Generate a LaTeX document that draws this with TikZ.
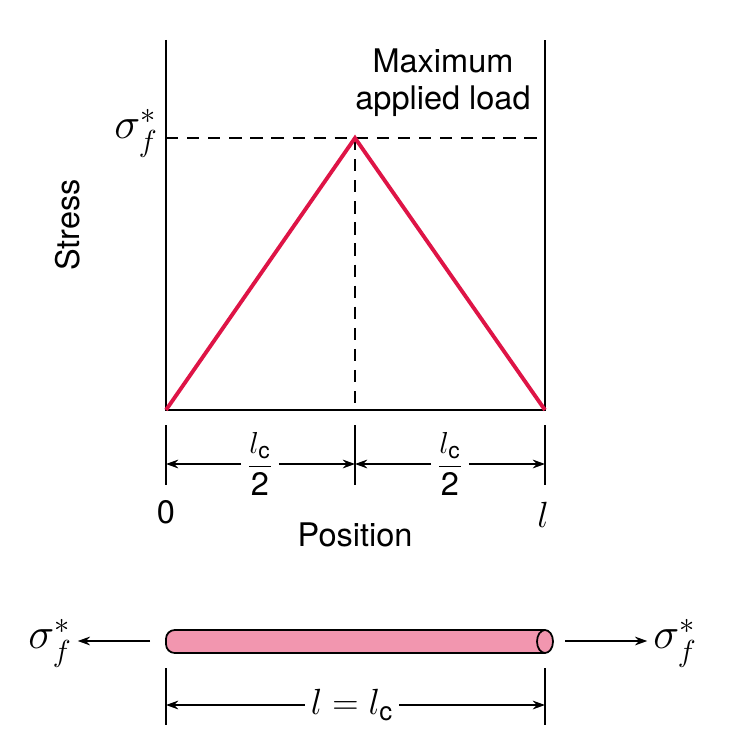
\documentclass[tikz,border=0pt]{standalone}
\usepackage{amsmath}
\usepackage{fontspec}
\setmainfont{TeX Gyre Heros}
\usetikzlibrary{arrows.meta}
\definecolor{loadred}{RGB}{222,20,70}
\definecolor{rodpink}{RGB}{242,150,175}
\tikzset{axis/.style={line width=1.2pt},
  guide/.style={line width=0.9pt,dash pattern=on 7pt off 5pt},
  load/.style={loadred,line width=2.2pt},
  dimtick/.style={line width=0.8pt},
  dimline/.style={line width=0.8pt,-{Stealth[length=7pt,width=5pt]}},
  rod/.style={fill=rodpink,draw=black,line width=1pt},
  lbl/.style={font=\fontsize{18.5}{21}\selectfont},
  siglbl/.style={font=\fontsize{25}{28}\selectfont}}

\begin{document}
\begin{tikzpicture}[x=0.02cm,y=-0.02cm]
\useasboundingbox (0,0) rectangle (731,750);
% stress plot
\coordinate (O) at (166,410); \coordinate (P) at (355,138); \coordinate (L) at (545,410);
\coordinate (OT) at (166,40); \coordinate (LT) at (545,40);
\draw[guide] (O|-P) -- (L|-P); \draw[guide] (P) -- (P|-O);
\draw[axis] (OT) -- (O) -- (L) -- (LT);
\draw[load] (O) -- (P) -- (L);
\node[siglbl] (sig) at (136,133) {$\sigma_f^*$};
\node[lbl,rotate=90] (stress) at (68,225) {Stress};
\node[lbl,align=center] (maxload) at (443,83) {Maximum\\applied load};
% position scale
\foreach \x/\n in {166/a,355/b,545/c}{\coordinate (\n1) at (\x,425); \coordinate (\n2) at (\x,485); \draw[dimtick] (\n1) -- (\n2);}
\node[lbl] (half1) at (260,464) {$\dfrac{l_{\text{c}}}{\text{2}}$};
\node[lbl] (half2) at (450,464) {$\dfrac{l_{\text{c}}}{\text{2}}$};
\draw[dimline] (half1.west) -- (half1-|a1); \draw[dimline] (half1.east) -- (half1-|b1);
\draw[dimline] (half2.west) -- (half2-|b1); \draw[dimline] (half2.east) -- (half2-|c1);
\node[lbl] (zero) at (166,512) {0}; \node[lbl,font=\fontsize{21}{24}\selectfont] (ell) at (543,515) {$l$};
\node[lbl] (pos) at (355,535) {Position};
% fiber
\filldraw[rod] (545,630) [rounded corners=5pt] -- (166,630) -- (166,653) [sharp corners] -- (545,653);
\filldraw[rod] (545,641.5) ellipse (8 and 11.5);
\coordinate (rodL) at (150,641); \coordinate (rodR) at (565,641);
\node[siglbl] (sigL) at (50,643) {$\sigma_f^*$}; \node[siglbl] (sigR) at (675,643) {$\sigma_f^*$};
\draw[dimline] (rodL) -- (sigL.east|-rodL); \draw[dimline] (rodR) -- (sigR.west|-rodR);
\coordinate (d1) at (166,668); \coordinate (d2) at (166,725); \coordinate (e1) at (545,668); \coordinate (e2) at (545,725);
\draw[dimtick] (d1) -- (d2); \draw[dimtick] (e1) -- (e2);
\node[lbl,font=\fontsize{21}{24}\selectfont] (len) at (352,705) {$l = l_{\text{c}}$};
\draw[dimline] (len.west) -- (len-|d1); \draw[dimline] (len.east) -- (len-|e1);
\end{tikzpicture}
\end{document}
